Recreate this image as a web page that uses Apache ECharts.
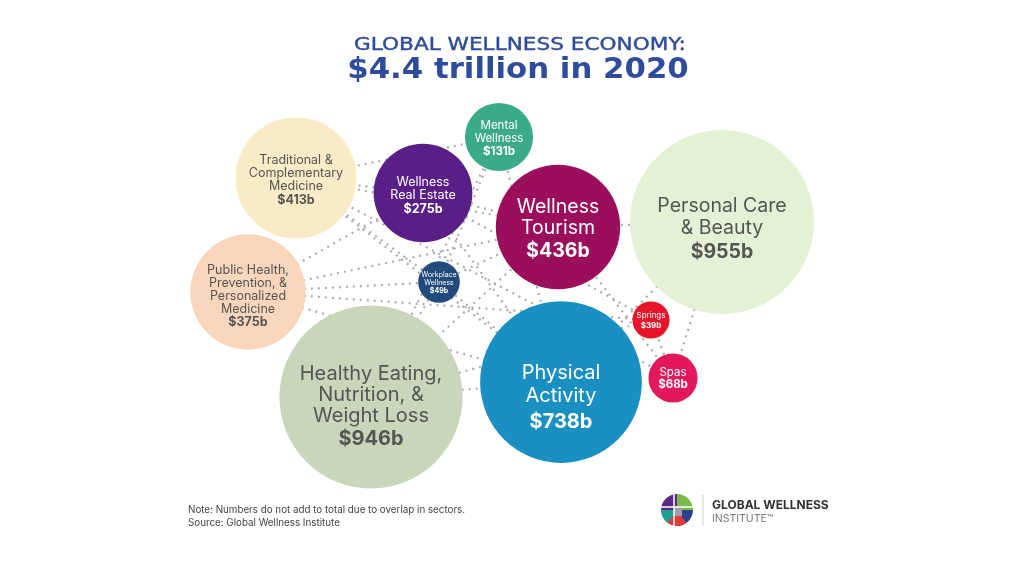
<!DOCTYPE html>
<html>
<head>
<meta charset="utf-8">
<script src="https://cdn.jsdelivr.net/npm/echarts@6/dist/echarts.min.js"></script>
<style>html,body{margin:0;padding:0;background:#fff}#c{width:1009px;height:561px}</style>
</head>
<body>
<div id="c"></div>
<script>
// ---- data ----
const sectors = ['Traditional & Complementary Medicine','Wellness Real Estate','Mental Wellness','Wellness Tourism','Personal Care & Beauty','Public Health, Prevention, & Personalized Medicine','Workplace Wellness','Springs','Spas','Healthy Eating, Nutrition, & Weight Loss','Physical Activity'];
const labelText = ['Traditional &\nComplementary\nMedicine','Wellness\nReal Estate','Mental\nWellness','Wellness\nTourism','Personal Care\n& Beauty','Public Health,\nPrevention, &\nPersonalized\nMedicine','Workplace\nWellness','Springs','Spas','Healthy Eating,\nNutrition, &\nWeight Loss','Physical\nActivity'];
const valuesB = [413, 275, 131, 436, 955, 375, 49, 39, 68, 946, 738];
// bubble placement in the layout plane
const posX = [296, 423, 499, 558, 722, 248, 439, 651, 673, 371, 561];
const posY = [178, 193, 137, 227, 222, 292, 282, 320, 378, 397, 382];
const links = [[0,2],[0,1],[0,3],[0,10],[0,6],[5,6],[5,7],[5,1],[5,3],[1,10],[1,7],[2,9],[2,10],[2,6],[3,8],[3,4],[3,9],[6,10],[6,3],[9,10],[4,8],[7,8],[4,10],[6,9],[9,7],[1,3],[5,10],[0,8]];
const titleLines = ['GLOBAL WELLNESS ECONOMY:', '$4.4 trillion in 2020'];

// ---- styles ----
const colors = ['#f9ebc5','#5a1e87','#3aaa8b','#9b0e5c','#e3f2d4','#f8d6bc','#224a7c','#e6152b','#e2185a','#c9d6b9','#1a8fc2'];
const textCol = ['#555','#fff','#fff','#fff','#555','#555','#fff','#fff','#fff','#555','#fff'];
const fs = [12.5, 12.5, 11.5, 19.5, 19.5, 12.5, 7, 8, 11.5, 20, 20];
const lh = [13, 13, 12.5, 21, 22.5, 12.8, 8, 9, 12, 21, 23.5];
const offY = [3, 3, 2, 3, 8, 5, 1, 1, 1, 10, 16];

const FONT = 'Inter, "Noto Sans", sans-serif';
const TFONT = '"DejaVu Sans", Inter, sans-serif';
const maxR = 92, maxV = 955;

const bubbleData = sectors.map((n, i) => ({
  name: n,
  value: [posX[i], posY[i], valuesB[i]],
  symbolSize: 2 * maxR * Math.sqrt(valuesB[i] / maxV),
  itemStyle: { color: colors[i], opacity: 1 },
  label: {
    show: true,
    position: 'inside',
    offset: [0, offY[i]],
    formatter: () => '{n|' + labelText[i].split('\n').join('}\n{n|') + '}\n{v|$' + valuesB[i] + 'b}',
    rich: {
      n: { fontFamily: FONT, fontSize: fs[i], lineHeight: lh[i], color: textCol[i], align: 'center' },
      v: { fontFamily: FONT, fontSize: fs[i], fontWeight: 'bold', lineHeight: lh[i] * 1.15, color: textCol[i], align: 'center' }
    }
  }
}));

const lineData = links.map(([a, b]) => ({ coords: [[posX[a], posY[a]], [posX[b], posY[b]]] }));

const chart = echarts.init(document.getElementById('c'));
chart.setOption({
  backgroundColor: '#fff',
  animation: false,
  grid: { left: 0, right: 0, top: 0, bottom: 0 },
  xAxis: { type: 'value', min: 0, max: 1009, show: false },
  yAxis: { type: 'value', min: 0, max: 561, inverse: true, show: false },
  graphic: [
    { type: 'text', x: 520, y: 36, scaleX: 1.2, style: { text: titleLines[0], font: '18px ' + TFONT, fill: '#2f4b9b', stroke: '#2f4b9b', lineWidth: 0.4, textAlign: 'center', textVerticalAlign: 'top' } },
    { type: 'text', x: 518, y: 57, scaleX: 1.1, style: { text: titleLines[1], font: 'bold 28px ' + TFONT, fill: '#2f4b9b', textAlign: 'center', textVerticalAlign: 'top' } },
    { type: 'text', left: 188, top: 504, style: { text: 'Note: Numbers do not add to total due to overlap in sectors.\nSource: Global Wellness Institute', font: '9.8px ' + FONT, fill: '#444', lineHeight: 13 } },
    { type: 'group', x: 677, y: 510, children: [
      { type: 'sector', shape: { cx: 0, cy: 0, r: 16, startAngle: Math.PI, endAngle: Math.PI * 1.5 }, style: { fill: '#5a2a87' } },
      { type: 'sector', shape: { cx: 0, cy: 0, r: 16, startAngle: Math.PI * 1.5, endAngle: Math.PI * 2 }, style: { fill: '#7cb84a' } },
      { type: 'sector', shape: { cx: 0, cy: 0, r: 16, startAngle: 0, endAngle: Math.PI * 0.5 }, style: { fill: '#2c3f8e' } },
      { type: 'sector', shape: { cx: 0, cy: 0, r: 16, startAngle: Math.PI * 0.5, endAngle: Math.PI }, style: { fill: '#1fa08f' } },
      { type: 'sector', shape: { cx: 0, cy: 0, r: 16, startAngle: Math.PI * 0.3, endAngle: Math.PI * 0.7 }, style: { fill: '#e23a3a' } },
      { type: 'rect', shape: { x: -3, y: -3, width: 8, height: 9 }, style: { fill: '#9aa0a6' } },
      { type: 'line', shape: { x1: -16, y1: -3, x2: 16, y2: -3 }, style: { stroke: '#fff', lineWidth: 1.5 } },
      { type: 'line', shape: { x1: -3, y1: -16, x2: -3, y2: 16 }, style: { stroke: '#fff', lineWidth: 1.5 } }
    ]},
    { type: 'line', shape: { x1: 703, y1: 495, x2: 703, y2: 526 }, style: { stroke: '#ccc', lineWidth: 1 } },
    { type: 'text', left: 712, top: 499, style: { text: 'GLOBAL WELLNESS', font: 'bold 12px ' + FONT, fill: '#333' } },
    { type: 'text', left: 712, top: 513, style: { text: 'INSTITUTE™', font: '10.5px ' + FONT, fill: '#777' } }
  ],
  series: [
    { type: 'lines', coordinateSystem: 'cartesian2d', z: 1, silent: true,
      lineStyle: { color: '#adadad', width: 2.2, type: [2, 5], opacity: 1, curveness: 0 },
      data: lineData },
    { type: 'scatter', z: 5, data: bubbleData }
  ]
});
</script>
</body>
</html>
